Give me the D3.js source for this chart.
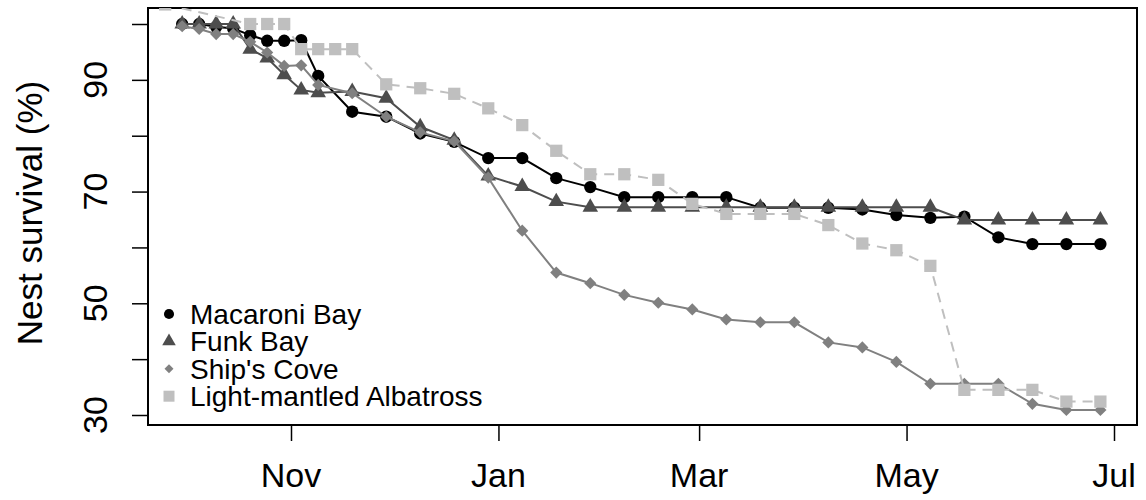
<!DOCTYPE html>
<html>
<head>
<meta charset="utf-8">
<script src="https://cdn.jsdelivr.net/npm/d3@7"></script>
<style>
  body { margin: 0; background: #fff; }
  text { font-family: "Liberation Sans", Arial, sans-serif; fill: #000; }
</style>
</head>
<body>
<svg width="1146" height="500"></svg>
<script>
// survey dates (5-day steps early in the season, then every 10 days)
var dates = ["2013-09-30","2013-10-05","2013-10-10","2013-10-15","2013-10-20","2013-10-25","2013-10-30","2013-11-04",
  "2013-11-09","2013-11-19","2013-11-29","2013-12-09","2013-12-19","2013-12-29","2014-01-08","2014-01-18",
  "2014-01-28","2014-02-07","2014-02-17","2014-02-27","2014-03-09","2014-03-19","2014-03-29","2014-04-08",
  "2014-04-18","2014-04-28","2014-05-08","2014-05-18","2014-05-28","2014-06-07","2014-06-17","2014-06-27"]

var macaroni = [100, 100, 99.5, 99.2, 98.0, 97.0, 97.0, 97.1, 90.7, 84.3, 83.4, 80.4, 78.9, 76.0, 76.0, 72.4,
  70.8, 69.0, 69.0, 69.0, 69.0, 67.1, 67.1, 67.1, 66.8, 65.8, 65.3, 65.5, 61.8, 60.6, 60.6, 60.6]
var funk = [100, 100, 100, 100, 95.5, 93.9, 90.9, 88.2, 87.7, 87.9, 86.7, 81.6, 79.2, 72.8, 70.9, 68.2,
  67.2, 67.2, 67.2, 67.2, 67.2, 67.2, 67.2, 67.2, 67.2, 67.2, 67.2, 64.9, 64.9, 64.9, 64.9, 64.9]
var ships = [99.6, 99.1, 98.2, 98.2, 96.8, 94.9, 92.5, 92.6, 89.1, 87.6, 83.4, 80.6, 79.0, 72.5, 63.0, 55.5,
  53.6, 51.5, 50.1, 48.9, 47.1, 46.6, 46.6, 43.0, 42.1, 39.5, 35.6, 35.6, 35.6, 32.0, 30.9, 30.9]

// albatross survey has its own dates
var lmaDates = ["2013-09-25","2013-10-20","2013-10-25","2013-10-30","2013-11-04","2013-11-09","2013-11-14","2013-11-19",
  "2013-11-29","2013-12-09","2013-12-19","2013-12-29","2014-01-08","2014-01-18","2014-01-28","2014-02-07",
  "2014-02-17","2014-02-27","2014-03-09","2014-03-19","2014-03-29","2014-04-08","2014-04-18","2014-04-28",
  "2014-05-08","2014-05-18","2014-05-28","2014-06-07","2014-06-17","2014-06-27"]
var lma = [103.5, 100, 100, 100, 95.5, 95.5, 95.5, 95.5, 89.2, 88.5, 87.5, 84.9, 81.9, 77.3, 73.1, 73.1,
  72.1, 67.8, 66.0, 66.0, 66.0, 64.0, 60.7, 59.5, 56.7, 34.5, 34.5, 34.5, 32.4, 32.4]

var monthTicks = ["2013-11-01","2014-01-01","2014-03-01","2014-05-01","2014-07-01"]
var yTicks = [30, 40, 50, 60, 70, 80, 90, 100]
var yLabels = [30, 50, 70, 90]

var parse = d3.timeParse("%Y-%m-%d")

var svg = d3.select("svg")
var box = {left: 148, right: 1137, top: 8, bottom: 425}

var x = d3.scaleTime()
  .domain([parse("2013-11-01"), parse("2014-07-01")])
  .range([291, 1114])
var y = d3.scaleLinear().domain([30, 100]).range([415, 24])

svg.append("clipPath").attr("id", "plotclip")
  .append("rect")
  .attr("x", box.left).attr("y", box.top)
  .attr("width", box.right - box.left).attr("height", box.bottom - box.top)

// axes
var yAxis = svg.append("g")
  .attr("transform", "translate(" + box.left + ",0)")
  .call(d3.axisLeft(y).tickValues(yTicks).tickSize(16).tickFormat(""))
yAxis.select(".domain").remove()
yAxis.selectAll("line").attr("stroke", "#000").attr("stroke-width", 1.5)

yLabels.forEach(v => {
  svg.append("text")
    .attr("transform", "translate(107," + y(v) + ") rotate(-90)")
    .attr("text-anchor", "middle")
    .style("font-size", "34px")
    .text(v)
})

var xAxis = svg.append("g")
  .attr("transform", "translate(0," + box.bottom + ")")
  .call(d3.axisBottom(x).tickValues(monthTicks.map(parse)).tickSize(16).tickFormat(""))
xAxis.select(".domain").remove()
xAxis.selectAll("line").attr("stroke", "#000").attr("stroke-width", 1.5)

monthTicks.forEach(d => {
  svg.append("text")
    .attr("x", x(parse(d))).attr("y", 487)
    .attr("text-anchor", "middle")
    .style("font-size", "34px")
    .text(d3.timeFormat("%b")(parse(d)))
})

svg.append("text")
  .attr("transform", "translate(42,213) rotate(-90)")
  .attr("text-anchor", "middle")
  .style("font-size", "35px")
  .text("Nest survival (%)")

svg.append("rect")
  .attr("x", box.left).attr("y", box.top)
  .attr("width", box.right - box.left).attr("height", box.bottom - box.top)
  .attr("fill", "none").attr("stroke", "#000").attr("stroke-width", 2)

var series = [
  {name: "Macaroni Bay", dates: dates, values: macaroni, color: "#000000", shape: d3.symbolCircle, size: 120, legSize: 80, rot: 0, dash: null},
  {name: "Funk Bay", dates: dates, values: funk, color: "#4d4d4d", shape: d3.symbolTriangle, size: 105, legSize: 80, rot: 0, dash: null},
  {name: "Ship's Cove", dates: dates, values: ships, color: "#808080", shape: d3.symbolSquare, size: 74, legSize: 40, rot: 45, dash: null},
  {name: "Light-mantled Albatross", dates: lmaDates, values: lma, color: "#bfbfbf", shape: d3.symbolSquare, size: 150, legSize: 121, rot: 0, dash: "10,7"}
]

var plot = svg.append("g").attr("clip-path", "url(#plotclip)")

var line = d3.line()
  .x(d => x(d.date))
  .y(d => y(d.value))

series.forEach(s => {
  var pts = s.dates.map((d, i) => ({date: parse(d), value: s.values[i]}))
  plot.append("path")
    .datum(pts)
    .attr("d", line)
    .attr("fill", "none")
    .attr("stroke", s.color)
    .attr("stroke-width", 2)
    .attr("stroke-dasharray", s.dash)
  plot.selectAll(null)
    .data(pts)
    .enter().append("path")
      .attr("d", d3.symbol().type(s.shape).size(s.size))
      .attr("transform", d => "translate(" + x(d.date) + "," + y(d.value) + ") rotate(" + s.rot + ")")
      .attr("fill", s.color)
})

// legend
var legend = svg.append("g")
series.forEach((s, i) => {
  var by = 324 + i * 27.4
  legend.append("path")
    .attr("d", d3.symbol().type(s.shape).size(s.legSize))
    .attr("transform", "translate(169," + (by - 10) + ") rotate(" + s.rot + ")")
    .attr("fill", s.color)
  legend.append("text")
    .attr("x", 190).attr("y", by)
    .style("font-size", "28px")
    .text(s.name)
})
</script>
</body>
</html>
